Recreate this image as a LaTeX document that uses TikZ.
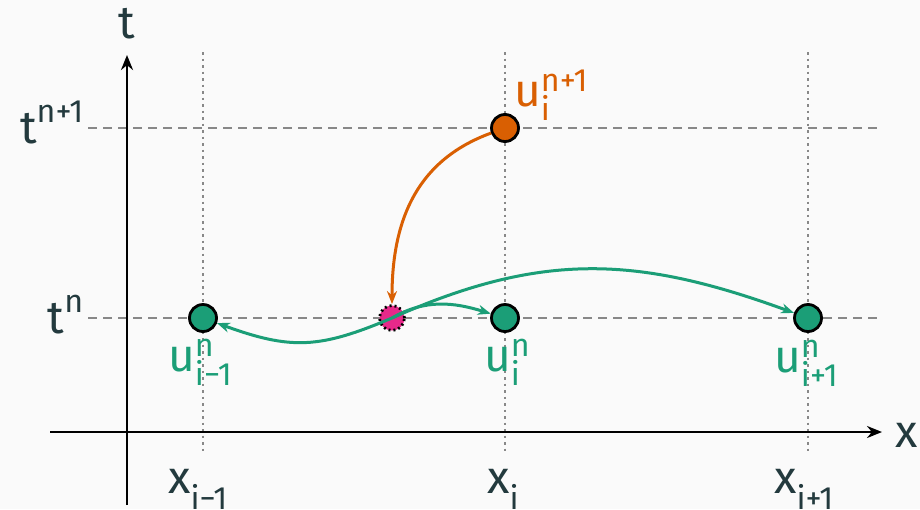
\documentclass[tikz,border=0pt]{standalone}
\usepackage{amsmath}
\usepackage{fontspec}
\setmainfont{Fira Sans}
\usetikzlibrary{arrows.meta}
\definecolor{bgc}{HTML}{FAFAFA}
\definecolor{txt}{HTML}{233A3E}
\definecolor{grn}{HTML}{1B9E77}
\definecolor{org}{HTML}{D95F02}
\definecolor{mag}{HTML}{E7298A}
\definecolor{grd}{HTML}{888888}
\begin{document}
\begin{tikzpicture}[x=1pt,y=1pt,
  lbl/.style={font=\fontsize{46}{52}\selectfont, inner sep=0pt, text=txt},
  axisline/.style={line width=2.8pt, black, -{Stealth[open,length=15pt,width=12pt]}},
  gridv/.style={line width=2.8pt, grd, dash pattern=on 2.5pt off 4pt},
  gridh/.style={line width=2.8pt, grd, dash pattern=on 9pt off 6pt},
  gpt/.style={circle, draw=black, line width=2.8pt, fill=grn, minimum size=27pt, inner sep=0pt},
  opt/.style={circle, draw=black, line width=2.8pt, fill=org, minimum size=27pt, inner sep=0pt},
  mpt/.style={circle, draw=black, line width=2.8pt, dash pattern=on 2pt off 3pt, fill=mag, minimum size=25pt, inner sep=0pt},
  garr/.style={line width=3pt, grn, -{Stealth[length=13pt,width=10pt]}},
  oarr/.style={line width=3pt, org, -{Stealth[length=13pt,width=10pt]}}]
\useasboundingbox[fill=bgc] (0,0) rectangle (920,-509);
% grid
\foreach \xx/\nm in {203/a,505/b,808/c}{
  \coordinate (vt\nm) at (\xx,-52);
  \coordinate (vb\nm) at (\xx,-453);
  \draw[gridv] (vt\nm) -- (vb\nm);
}
\coordinate (h1l) at (88,-128); \coordinate (h1r) at (882,-128);
\coordinate (h0l) at (88,-318); \coordinate (h0r) at (882,-318);
\draw[gridh] (h1l) -- (h1r);
\draw[gridh] (h0l) -- (h0r);
% axes
\coordinate (yb) at (127,-505); \coordinate (yt) at (127,-55);
\coordinate (xl) at (50,-432); \coordinate (xr) at (882,-432);
\draw[axisline] (yb) -- (yt);
\draw[axisline] (xl) -- (xr);
\node[lbl, anchor=base] (tlab) at (127,-38) {t};
\node[lbl, anchor=base west] (xlab) at (895,-447) {x};
\node[lbl, anchor=base east] (tn1) at (84,-143) {$\text{t}^{\text{n+1}}$};
\node[lbl, anchor=base east] (tn) at (84,-333) {$\text{t}^{\text{n}}$};
% x labels
\node[lbl, anchor=base west] (xim1) at (168,-493) {$\text{x}_{\text{i−1}}$};
\node[lbl, anchor=base west] (xi) at (487,-493) {$\text{x}_{\text{i}}$};
\node[lbl, anchor=base west] (xip1) at (774,-493) {$\text{x}_{\text{i+1}}$};
% points
\node[gpt] (um1) at (203,-318) {};
\node[gpt] (ui) at (505,-318) {};
\node[gpt] (up1) at (808,-318) {};
\node[opt] (uN) at (505,-128) {};
\node[mpt] (m) at (392,-318) {};
% point labels
\node[lbl, text=grn, anchor=base west] (lm1) at (168,-371) {$\text{u}^{\text{n}}_{\text{i−1}}$};
\node[lbl, text=grn, anchor=base west] (li) at (484,-371) {$\text{u}^{\text{n}}_{\text{i}}$};
\node[lbl, text=grn, anchor=base west] (lp1) at (774,-372) {$\text{u}^{\text{n}}_{\text{i+1}}$};
\node[lbl, text=org, anchor=base west] (lN) at (514,-106) {$\text{u}^{\text{n+1}}_{\text{i}}$};
% arrows
\draw[oarr] (uN) to[out=200, in=90, looseness=1.05] (m);
\draw[garr] (m.center) to[out=203, in=-20, looseness=1.15] (um1);
\draw[garr] (m.center) to[out=30, in=163] (ui);
\draw[garr] (m.center) to[out=24, in=160, looseness=1.05] (up1);
\end{tikzpicture}
\end{document}
